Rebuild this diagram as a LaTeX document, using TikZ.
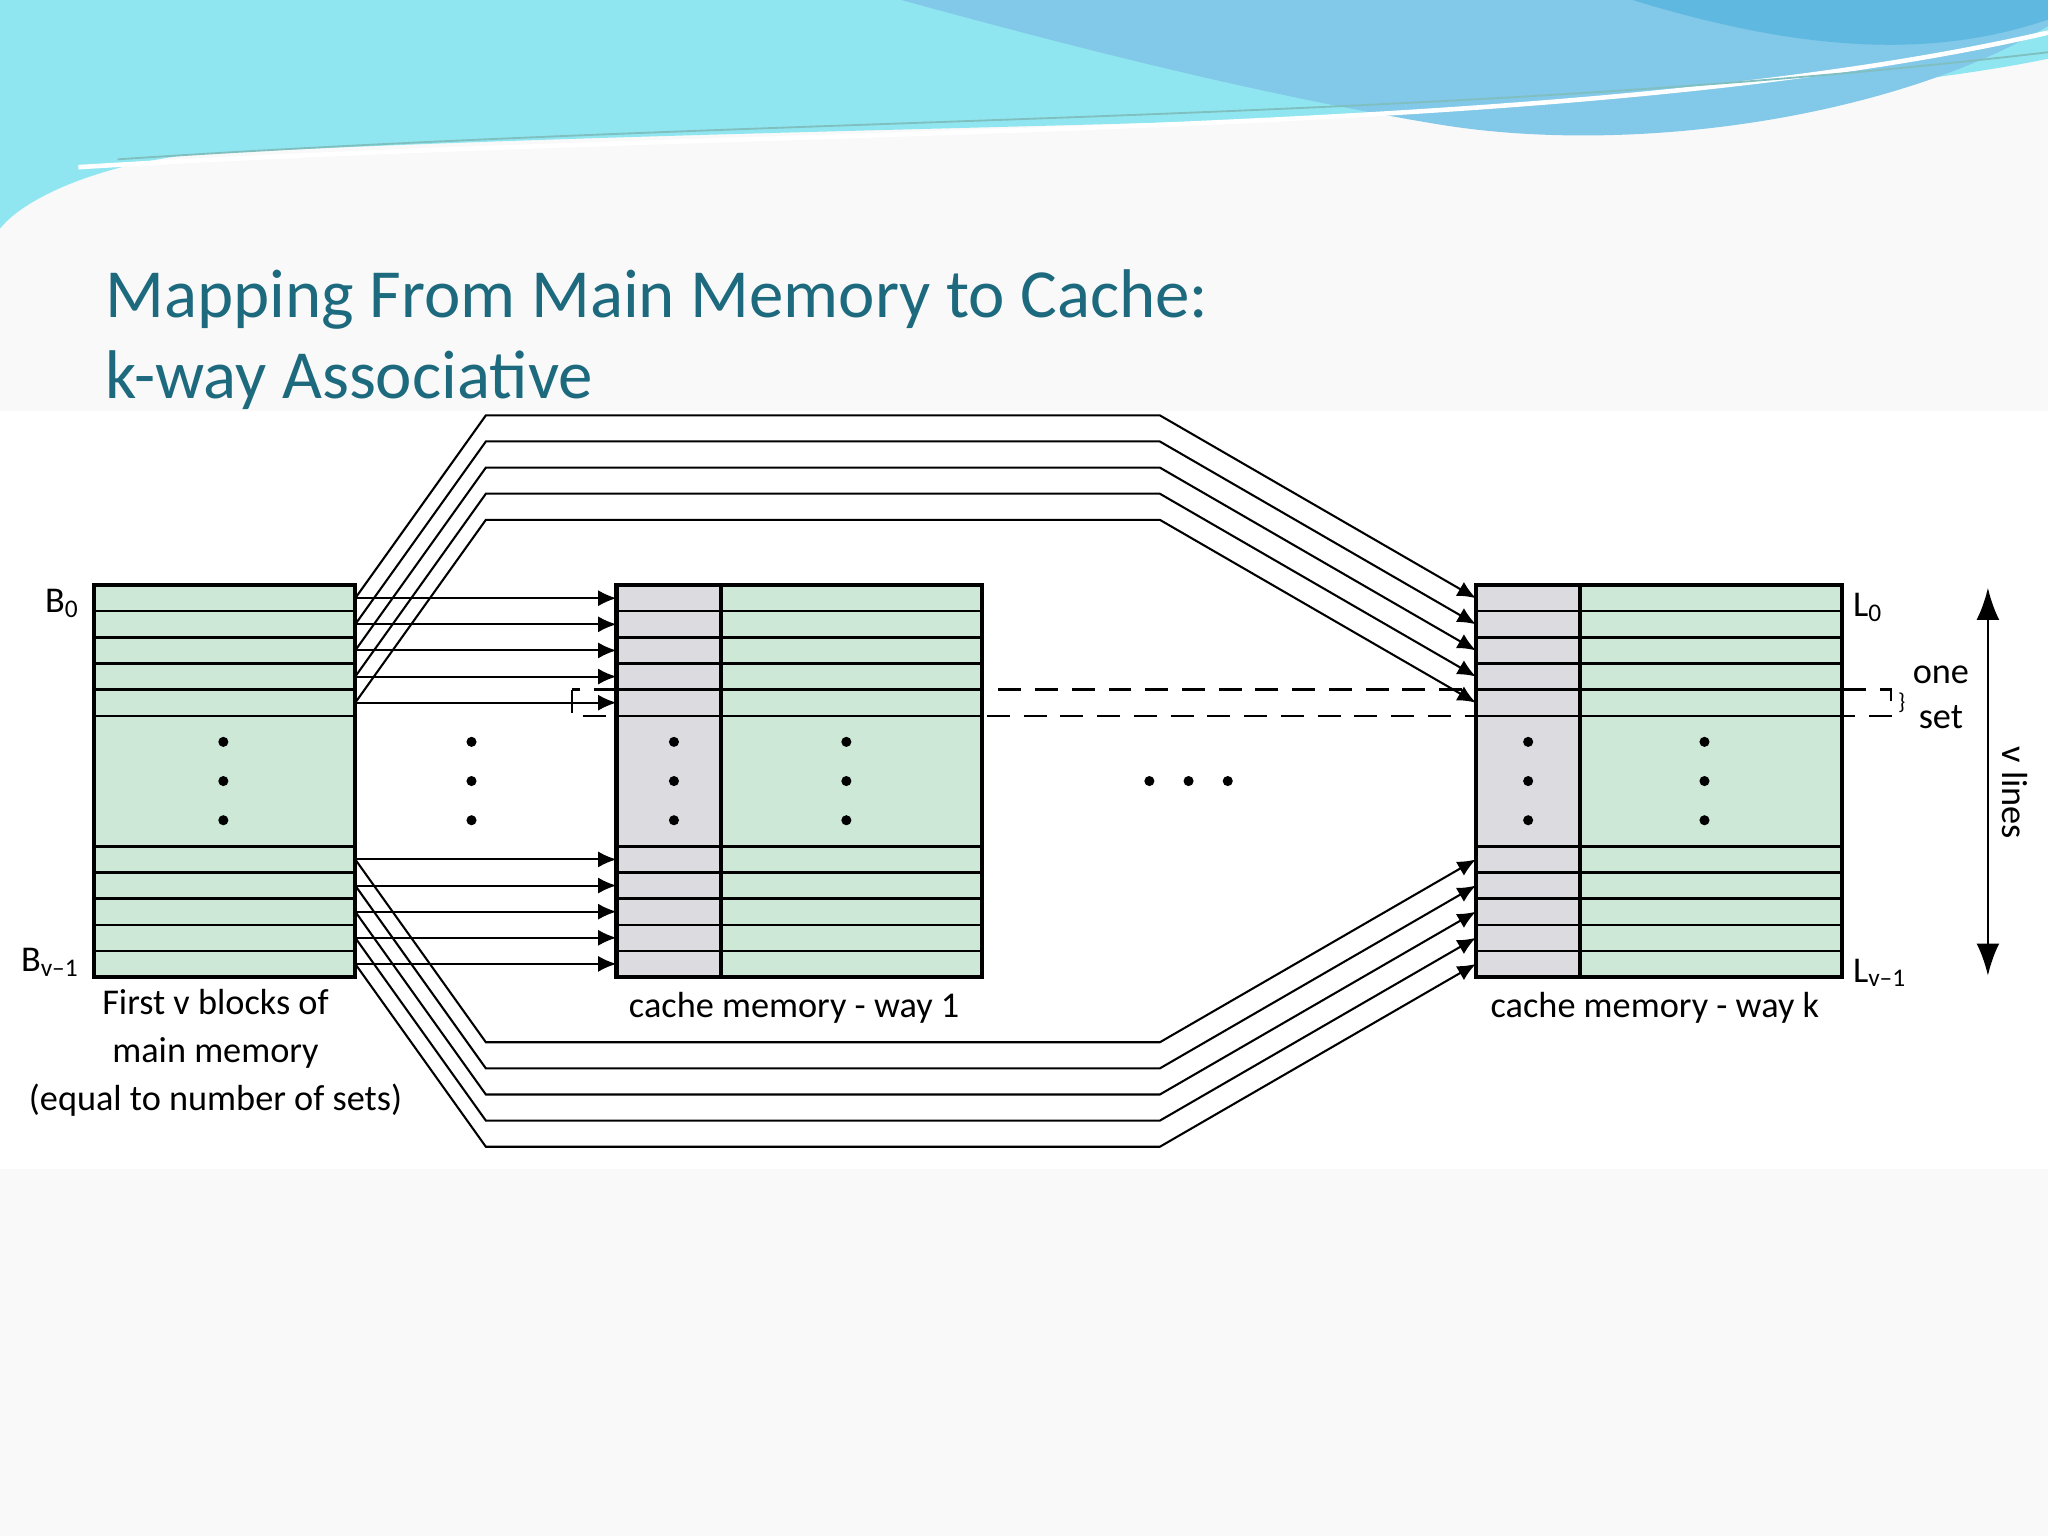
\documentclass[tikz,border=0pt]{standalone}
\usepackage{fontspec}
\setmainfont{Carlito}
\usetikzlibrary{arrows.meta}
\definecolor{memgreen}{HTML}{CDE8D6}
\definecolor{taggray}{HTML}{DCDCE0}
\definecolor{titleblue}{HTML}{1D6A7E}
\definecolor{wavecyan}{HTML}{90E6F0}
\definecolor{waveblue}{HTML}{82C8E8}
\definecolor{wavedeep}{HTML}{5FB8E0}
\begin{document}
\begin{tikzpicture}[x=0.01cm,y=-0.01cm,
  blk/.style={draw=black,line width=0.9pt},
  row/.style={draw=black,line width=0.5pt},
  map/.style={draw=black,line width=0.45pt,-{Latex[length=4pt,width=3.5pt]}},
  lbl/.style={font=\fontsize{7.9}{9.5}\selectfont,inner sep=0pt},
  dot/.style={fill=black,circle,inner sep=0pt,minimum size=2.2pt}]
\useasboundingbox (0,0) rectangle (1568,1176);
% slide background
\fill[gray!5] (0,0) rectangle (1568,1176);
\fill[white] (0,315) rectangle (1568,895);
% top wave
\fill[wavecyan] (0,0) -- (1568,0) -- (1568,45) .. controls (1300,100) and (700,90) .. (150,118) .. controls (80,125) and (20,150) .. (0,175) -- cycle;
\fill[waveblue] (690,0) -- (1568,0) -- (1568,20) .. controls (1450,90) and (1250,120) .. (1100,95) .. controls (950,70) and (800,30) .. (690,0) -- cycle;
\fill[wavedeep] (1250,0) -- (1568,0) -- (1568,15) .. controls (1480,45) and (1380,40) .. (1250,0) -- cycle;
\draw[white,line width=1pt] (60,128) .. controls (600,95) and (1200,110) .. (1568,25);
\draw[teal!50,line width=0.4pt] (90,122) .. controls (600,88) and (1100,95) .. (1568,40);
% title
\node[anchor=base west,inner sep=0pt,text=titleblue,font=\fontsize{15}{18}\selectfont] (title) at (80,243) {Mapping From Main Memory to Cache:};
\node[anchor=base west,inner sep=0pt,text=titleblue,font=\fontsize{15}{18}\selectfont] (title2) at (80,305) {k-way Associative};
% main memory
\fill[memgreen] (72,448) rectangle (272,748);
\foreach \y in {468,488,508,528,548,648,668,688,708,728} \draw[row] (72,\y) -- (272,\y);
\draw[blk] (72,448) rectangle (272,748);
\node[dot] (m1) at (171,568) {}; \node[dot] (m2) at (171,598) {}; \node[dot] (m3) at (171,628) {};
% way 1
\fill[taggray] (472,448) rectangle (552,748);
\fill[memgreen] (552,448) rectangle (752,748);
\foreach \y in {468,488,508,528,548,648,668,688,708,728} \draw[row] (472,\y) -- (752,\y);
\draw[blk] (472,448) rectangle (752,748);
\draw[blk] (552,448) -- (552,748);
\foreach \y in {568,598,628} {\node[dot] at (516,\y) {}; \node[dot] at (648,\y) {};}
% way k
\fill[taggray] (1130,448) rectangle (1210,748);
\fill[memgreen] (1210,448) rectangle (1410,748);
\foreach \y in {468,488,508,528,548,648,668,688,708,728} \draw[row] (1130,\y) -- (1410,\y);
\draw[blk] (1130,448) rectangle (1410,748);
\draw[blk] (1210,448) -- (1210,748);
\foreach \y in {568,598,628} {\node[dot] at (1170,\y) {}; \node[dot] at (1305,\y) {};}
% intermediate dots
\foreach \y in {568,598,628} \node[dot] at (361,\y) {};
\foreach \x in {880,910,940} \node[dot] at (\x,598) {};
% row anchors and mappings
\foreach \i in {0,...,4} {
  \coordinate (mt\i) at (272,458+20*\i);
  \coordinate (mb\i) at (272,658+20*\i);
  \coordinate (at\i) at (472,458+20*\i);
  \coordinate (ab\i) at (472,658+20*\i);
  \coordinate (kt\i) at (1130,458+20*\i);
  \coordinate (kb\i) at (1130,658+20*\i);
  \coordinate (ut\i) at (372,318+20*\i);
  \coordinate (vt\i) at (888,318+20*\i);
  \coordinate (ub\i) at (372,798+20*\i);
  \coordinate (vb\i) at (888,798+20*\i);
  \draw[map] (mt\i) -- (at\i);
  \draw[map] (mb\i) -- (ab\i);
  \draw[map] (mt\i) -- (ut\i) -- (vt\i) -- (kt\i);
  \draw[map] (mb\i) -- (ub\i) -- (vb\i) -- (kb\i);
}
% one set
\draw[line width=0.5pt,dash pattern=on 5pt off 3pt] (438,528) rectangle (1448,548);
\node[lbl,font=\fontsize{5}{5}\selectfont] (brace) at (1456,538) {\}};
\node[lbl] (one) at (1486,517) {one};
\node[lbl] (set) at (1486,549) {set};
% labels
\node[lbl,anchor=east] (b0) at (62,462) {B\textsubscript{0}};
\node[lbl,anchor=east] (bv) at (62,737) {B\textsubscript{v–1}};
\node[lbl,anchor=west] (l0) at (1418,465) {L\textsubscript{0}};
\node[lbl,anchor=west] (lv) at (1418,745) {L\textsubscript{v–1}};
\coordinate (vt) at (1522,450);
\coordinate (vb) at (1522,747);
\draw[line width=0.6pt,{Latex[length=7pt,width=5pt]}-{Latex[length=7pt,width=5pt]}] (vt) -- (vb);
\node[lbl,rotate=-90] (vl) at (1543,607) {v lines};
\node[lbl,align=center] (cm) at (165,806) {First v blocks of\\[1pt]main memory\\[1pt](equal to number of sets)};
\node[lbl] (c1) at (608,772) {cache memory - way 1};
\node[lbl] (ck) at (1267,772) {cache memory - way k};
\end{tikzpicture}
\end{document}
